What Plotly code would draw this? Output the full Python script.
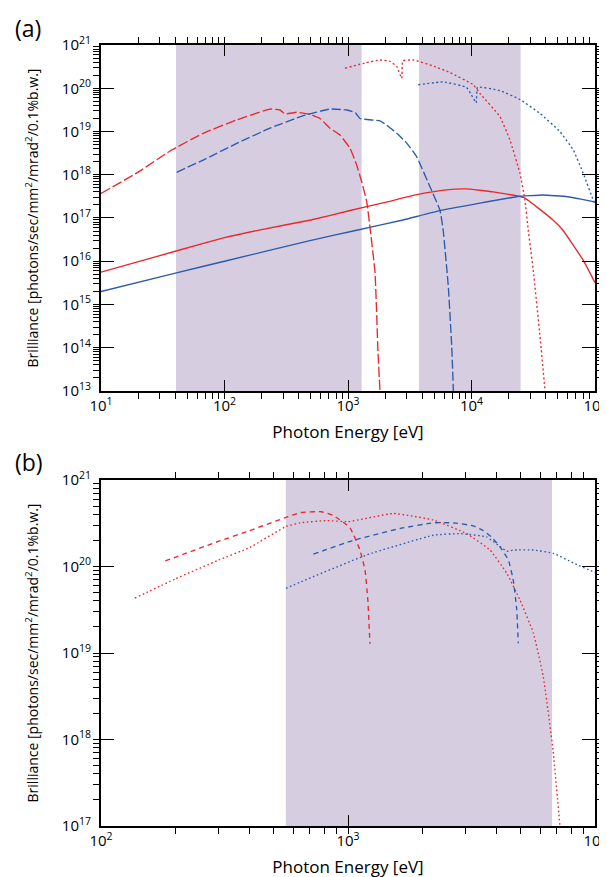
import plotly.graph_objects as go

# ---------------- Panel (a) data ----------------
a_bands = [(40.5, 1290), (3760, 25000)]

a_red_solid_E = [10, 40, 100, 200, 500, 1000, 2000, 3700, 6000, 9000, 15000, 26600, 45700, 55000, 80000, 100000]
a_red_solid_B = [5.6e15, 1.7e16, 3.5e16, 5.4e16, 9e16, 1.45e17, 2.3e17, 3.5e17, 4.4e17, 4.7e17, 4.0e17, 2.95e17, 9e16, 5.2e16, 1.07e16, 3.2e15]

a_blue_solid_E = [10, 40.8, 100, 492, 1175, 2790, 5560, 23200, 37900, 60000, 96400, 100000]
a_blue_solid_B = [2e15, 5.4e15, 1e16, 3e16, 5.2e16, 9e16, 1.48e17, 3.1e17, 3.4e17, 3.1e17, 2.4e17, 2.3e17]

a_red_dash_E = [10, 20, 36.2, 67.3, 125.6, 233, 281, 309, 384, 492, 593, 714, 861, 1038, 1175, 1291, 1417, 1520, 1656, 1750, 1815]
a_red_dash_B = [3.7e17, 1.15e18, 3.54e18, 9.1e18, 1.85e19, 3.3e19, 3.14e19, 2.54e19, 2.78e19, 2.5e19, 2.0e19, 1.19e19, 8.3e18, 4.1e18, 1.68e18, 6.9e17, 2.4e17, 5e16, 5.4e15, 7.6e13, 1e13]

a_blue_dash_E = [41, 67.3, 125.6, 233, 435, 714, 977, 1150, 1250, 1815, 2055, 2480, 2990, 3600, 4610, 5560, 5900, 6490, 6920, 7130]
a_blue_dash_B = [1.14e18, 2.19e18, 5.3e18, 1.19e19, 2.32e19, 3.3e19, 3.14e19, 2.7e19, 2.0e19, 1.75e19, 1.4e19, 9.1e18, 5.4e18, 2.6e18, 5.3e17, 1.5e17, 5.2e16, 2.6e15, 1.05e14, 1e13]

a_red_dot_E = [946, 1400, 1815, 2190, 2480, 2720, 2780, 3400, 5000, 6700, 10350, 11700, 17000, 20500, 24700, 27100, 28800, 31600, 35900, 39400]
a_red_dot_B = [2.9e20, 3.9e20, 4.5e20, 4.2e20, 3.2e20, 1.7e20, 4.3e20, 4.5e20, 3.2e20, 2.3e20, 1.2e20, 7.6e19, 2.2e19, 6.3e18, 1.07e18, 2.6e17, 5.3e16, 6.3e15, 1.8e14, 1e13]

a_blue_dot_E = [3700, 5900, 9100, 10000, 10900, 11200, 17000, 24700, 35900, 52100, 66800, 80400, 96800, 100000]
a_blue_dot_B = [1.2e20, 1.4e20, 1.05e20, 7e19, 4.6e19, 1.05e20, 8.8e19, 5.5e19, 2.6e19, 9.9e18, 3.7e18, 1.07e18, 2.6e17, 2.2e17]

# ---------------- Panel (b) data ----------------
b_bands = [(560, 6700)]

b_red_dash_E = [182, 300, 400, 561, 640, 780, 871, 1019, 1118, 1172, 1203, 1227]
b_red_dash_B = [1.16e20, 1.96e20, 2.6e20, 3.7e20, 4.2e20, 4.3e20, 3.9e20, 2.8e20, 1.55e20, 9.1e19, 4.1e19, 1.28e19]

b_red_dot_E = [137, 200, 300, 400, 561, 640, 820, 1003, 1525, 2215, 3020, 3760, 4400, 4970, 5630, 6170, 6760, 7210]
b_red_dot_B = [4.3e19, 7.2e19, 1.19e20, 1.66e20, 2.9e20, 3.2e20, 3.4e20, 3.3e20, 4.1e20, 3.45e20, 2.4e20, 1.55e20, 8.3e19, 4.1e19, 1.7e19, 5.4e18, 7.6e17, 1e17]

b_blue_dash_E = [724, 1047, 1622, 2215, 2670, 3215, 3530, 3800, 4120, 4460, 4670, 4820, 4890]
b_blue_dash_B = [1.39e20, 2.0e20, 2.75e20, 3.2e20, 3.2e20, 2.95e20, 2.6e20, 2.2e20, 1.7e20, 1.19e20, 6.9e19, 3.2e19, 1.3e19]

b_blue_dot_E = [561, 640, 1190, 2215, 2840, 3640, 4120, 4400, 4670, 5630, 6780, 8170, 9840, 10000]
b_blue_dot_B = [5.6e19, 6.6e19, 1.36e20, 2.3e20, 2.4e20, 2.2e20, 1.7e20, 1.5e20, 1.55e20, 1.55e20, 1.42e20, 1.1e20, 8.7e19, 8.6e19]

# ---------------- styling ----------------
RED = "#e8282e"
BLUE = "#2c5bab"
BAND = "#d7cde1"
FONT = "Open Sans"

fig = go.Figure()

def add(xa, ya, E, B, color, dash, width=1.35):
    fig.add_trace(go.Scatter(x=E, y=B, mode="lines", xaxis=xa, yaxis=ya,
                             line=dict(color=color, dash=dash, width=width, shape="spline", smoothing=0.35),
                             showlegend=False, hoverinfo="skip"))

add("x", "y", a_red_solid_E, a_red_solid_B, RED, "solid")
add("x", "y", a_blue_solid_E, a_blue_solid_B, BLUE, "solid")
add("x", "y", a_red_dash_E, a_red_dash_B, RED, "10px,3px")
add("x", "y", a_blue_dash_E, a_blue_dash_B, BLUE, "9px,3px")
add("x", "y", a_red_dot_E, a_red_dot_B, RED, "2px,2.5px")
add("x", "y", a_blue_dot_E, a_blue_dot_B, BLUE, "2px,2.5px")

add("x2", "y2", b_red_dash_E, b_red_dash_B, RED, "5px,4px")
add("x2", "y2", b_red_dot_E, b_red_dot_B, RED, "1.6px,2.6px")
add("x2", "y2", b_blue_dash_E, b_blue_dash_B, BLUE, "5px,4px")
add("x2", "y2", b_blue_dot_E, b_blue_dot_B, BLUE, "1.6px,2.6px")

shapes = []
for x0, x1 in a_bands:
    shapes.append(dict(type="rect", xref="x", yref="y domain", x0=x0, x1=x1, y0=0, y1=1,
                       fillcolor=BAND, line=dict(width=0), layer="below"))
for x0, x1 in b_bands:
    shapes.append(dict(type="rect", xref="x2", yref="y2 domain", x0=x0, x1=x1, y0=0, y1=1,
                       fillcolor=BAND, line=dict(width=0), layer="below"))

def sup(p):
    return "10<sup>%d</sup>" % p

def majors(p0, p1):
    return [10.0 ** p for p in range(p0, p1 + 1)]

TICKFONT = dict(family=FONT, size=15, color="black")

def base_axis(p0, p1, ticklen):
    return dict(type="log", range=[p0, p1], automargin=False,
                tickmode="array", tickvals=majors(p0, p1), ticktext=[sup(p) for p in range(p0, p1 + 1)],
                ticks="inside", ticklen=ticklen, tickwidth=1, tickcolor="black",
                minor=dict(dtick="D1", ticklen=6, tickwidth=1, tickcolor="black", showgrid=False),
                showline=True, linewidth=2, linecolor="black", mirror="allticks",
                showgrid=False, zeroline=False, tickfont=TICKFONT)

XTITLE = dict(text="Photon Energy [eV]", font=dict(family=FONT, size=17, color="black"), standoff=12)
YTITLE = dict(text="Brilliance [photons/sec/mm<sup>2</sup>/mrad<sup>2</sup>/0.1%b.w.]",
              font=dict(family=FONT, size=14, color="black"), standoff=20)

xa = base_axis(1, 5, 11); xa.update(anchor="y", title=XTITLE)
ya = base_axis(13, 21, 13); ya.update(anchor="x", domain=[0.557, 1.0], title=YTITLE, ticklabelstandoff=5)
xb = base_axis(2, 4, 11); xb.update(anchor="y2", title=XTITLE)
yb = base_axis(17, 21, 13); yb.update(anchor="x2", domain=[0.0, 0.443], title=YTITLE, ticklabelstandoff=5)

# the page body adds an 8px offset; margins are set so the plot boxes land where the reference has them
fig.update_layout(
    width=607, height=877,
    margin=dict(l=93, r=20, t=37, b=59),
    paper_bgcolor="white", plot_bgcolor="white",
    showlegend=False,
    xaxis=xa, yaxis=ya, xaxis2=xb, yaxis2=yb,
    shapes=shapes,
    annotations=[
        dict(text="(a)", xref="paper", yref="paper", x=-0.178, y=1.022, xanchor="left", yanchor="middle",
             showarrow=False, font=dict(family=FONT, size=23, color="black")),
        dict(text="(b)", xref="paper", yref="paper", x=-0.178, y=0.466, xanchor="left", yanchor="middle",
             showarrow=False, font=dict(family=FONT, size=23, color="black")),
    ],
)

fig.write_html("out.html")
